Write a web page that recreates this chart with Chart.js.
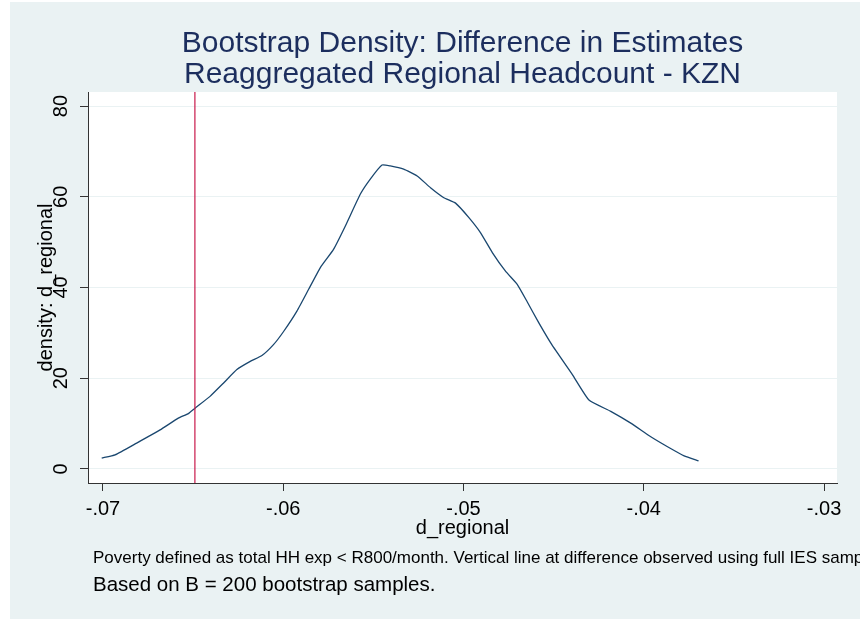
<!DOCTYPE html>
<html>
<head>
<meta charset="utf-8">
<script src="https://cdn.jsdelivr.net/npm/chart.js@4"></script>
<style>
  html, body { margin: 0; padding: 0; background: #ffffff; }
  #wrap { position: absolute; left: 10px; top: 2px; width: 850px; height: 617px; background: #eaf2f3; }
</style>
</head>
<body>
<div id="wrap"><canvas id="densityChart" width="850" height="617"></canvas></div>
<script>
// kernel density of the bootstrap differences
const densityX = [
  -0.07007, -0.06933, -0.06813, -0.06683, -0.06582, -0.06526, -0.06489, -0.06406,
  -0.06332, -0.06257, -0.06183, -0.06118, -0.06054, -0.05998, -0.05924, -0.05859,
  -0.05794, -0.05721, -0.05656, -0.05572, -0.05517, -0.05452, -0.05406, -0.05332,
  -0.05257, -0.05183, -0.05109, -0.05044, -0.04970, -0.04906, -0.04840, -0.04767,
  -0.04702, -0.04646, -0.04582, -0.04510, -0.04396, -0.04304, -0.04183, -0.04072,
  -0.03961, -0.03868, -0.03776, -0.03696
];
const densityY = [
  2.4, 3.1, 5.7, 8.6, 11.2, 12.2, 13.4, 16.0,
  18.9, 21.9, 23.7, 25.0, 27.4, 30.3, 34.8, 39.6,
  44.4, 48.4, 53.5, 60.6, 63.9, 67.0, 66.8, 66.1,
  64.6, 62.0, 59.8, 58.6, 55.4, 52.1, 47.7, 43.6,
  40.7, 36.8, 32.2, 27.4, 20.8, 15.2, 12.7, 10.1,
  7.1, 4.9, 2.9, 1.8
];

// difference observed with the full IES sample
const observedDiff = -0.0649;

const xTicks = [-0.07, -0.06, -0.05, -0.04, -0.03];
const xTickLabels = ['-.07', '-.06', '-.05', '-.04', '-.03'];
const yTicks = [0, 20, 40, 60, 80];
const yTickLabels = ['0', '20', '40', '60', '80'];

const xMin = -0.07083, xMax = -0.02928;
const yMin = -3.1, yMax = 83.1;

const titleLines = [
  'Bootstrap Density: Difference in Estimates',
  'Reaggregated Regional Headcount - KZN'
];
const noteLines = [
  'Poverty defined as total HH exp < R800/month. Vertical line at difference observed using full IES sample.',
  'Based on B = 200 bootstrap samples.'
];

const FONT = '"Liberation Sans", Arial, sans-serif';

// white plot region + titles and notes placed like Stata does
const stataText = {
  id: 'stataText',
  beforeDraw(chart) {
    const { ctx, chartArea } = chart;
    ctx.save();
    ctx.fillStyle = '#ffffff';
    ctx.fillRect(chartArea.left, chartArea.top, chartArea.right - chartArea.left, chartArea.bottom - chartArea.top);
    ctx.restore();
  },
  afterDraw(chart) {
    const { ctx, chartArea } = chart;
    const cx = (chartArea.left + chartArea.right) / 2;
    ctx.save();
    ctx.textAlign = 'center';
    ctx.textBaseline = 'alphabetic';
    ctx.fillStyle = '#1c2e5e';
    ctx.font = '30px ' + FONT;
    ctx.fillText(titleLines[0], cx, 50);
    ctx.fillText(titleLines[1], cx, 81);

    ctx.textAlign = 'left';
    ctx.fillStyle = '#000000';
    ctx.font = '17px ' + FONT;
    ctx.fillText(noteLines[0], 83, 561);
    ctx.font = '20.5px ' + FONT;
    ctx.fillText(noteLines[1], 83, 589);
    ctx.restore();
  }
};

const ctx = document.getElementById('densityChart').getContext('2d');
new Chart(ctx, {
  type: 'line',
  data: {
    datasets: [
      {
        label: 'observed',
        data: [{ x: observedDiff, y: yMin }, { x: observedDiff, y: yMax }],
        borderColor: '#c8194a',
        borderWidth: 1.2,
        pointRadius: 0
      },
      {
        label: 'density',
        data: densityX.map((x, i) => ({ x: x, y: densityY[i] })),
        borderColor: '#1a476f',
        borderWidth: 1.3,
        pointRadius: 0,
        tension: 0.15
      }
    ]
  },
  options: {
    responsive: false,
    animation: false,
    layout: { padding: { top: 90, right: 23, left: 0, bottom: 0 } },
    plugins: {
      legend: { display: false },
      tooltip: { enabled: false }
    },
    scales: {
      x: {
        type: 'linear',
        min: xMin,
        max: xMax,
        afterBuildTicks: s => { s.ticks = xTicks.map(v => ({ value: v })); },
        afterFit: s => { s.height = 136; },
        ticks: {
          autoSkip: false,
          maxRotation: 0,
          padding: 6,
          color: '#000000',
          font: { family: FONT, size: 20 },
          callback: (v, i) => xTickLabels[i]
        },
        grid: { drawOnChartArea: false, tickLength: 8, tickColor: '#333333' },
        border: { color: '#333333', width: 1 },
        title: {
          display: true,
          text: 'd_regional',
          color: '#000000',
          font: { family: FONT, size: 20 },
          padding: { top: 0, bottom: 79 }
        }
      },
      y: {
        min: yMin,
        max: yMax,
        afterBuildTicks: s => { s.ticks = yTicks.map(v => ({ value: v })); },
        afterFit: s => { s.width = 78; },
        ticks: {
          autoSkip: false,
          minRotation: 90,
          maxRotation: 90,
          crossAlign: 'center',
          padding: 7,
          color: '#000000',
          font: { family: FONT, size: 20 },
          callback: (v, i) => yTickLabels[i]
        },
        grid: { color: '#eaf2f3', lineWidth: 1, tickLength: 8, tickColor: '#333333' },
        border: { color: '#333333', width: 1 },
        title: {
          display: true,
          text: 'density: d_regional',
          color: '#000000',
          font: { family: FONT, size: 20 },
          padding: { top: 24, bottom: 0 }
        }
      }
    }
  },
  plugins: [stataText]
});
</script>
</body>
</html>
